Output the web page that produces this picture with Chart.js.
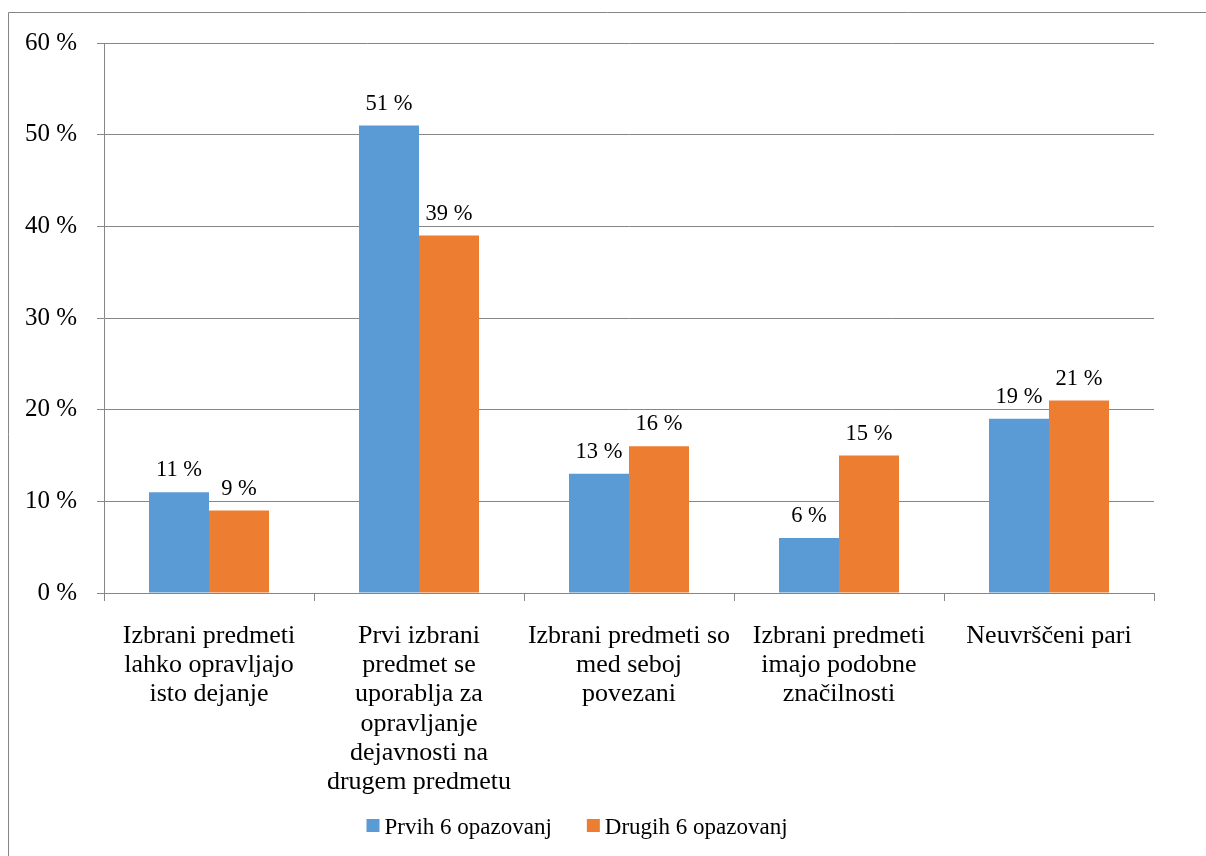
<!DOCTYPE html>
<html>
<head>
<meta charset="utf-8">
<script src="https://cdn.jsdelivr.net/npm/chart.js@4/dist/chart.umd.min.js"></script>
<style>
  html, body { margin: 0; padding: 0; background: #fff; }
  #wrap { position: absolute; left: 0; top: 0; width: 1206px; height: 856px; }
</style>
</head>
<body>
<div id="wrap"><canvas id="c" width="1206" height="856"></canvas></div>
<script>
// Kategorije (vsaka oznaka razdeljena v vrstice)
const categories = [
  ["Izbrani predmeti", "lahko opravljajo", "isto dejanje"],
  ["Prvi izbrani", "predmet se", "uporablja za", "opravljanje", "dejavnosti na", "drugem predmetu"],
  ["Izbrani predmeti so", "med seboj", "povezani"],
  ["Izbrani predmeti", "imajo podobne", "značilnosti"],
  ["Neuvrščeni pari"]
];
const seriesNames = ["Prvih 6 opazovanj", "Drugih 6 opazovanj"];
const prvih6 = [11, 51, 13, 6, 19];
const drugih6 = [9, 39, 16, 15, 21];
const yTicks = [0, 10, 20, 30, 40, 50, 60];

const FONT = '"Liberation Serif", "Times New Roman", serif';
const BLUE = '#5B9BD5';
const ORANGE = '#ED7D31';
const GRID = '#868686';

// Okvir celotnega grafa
const frame = {
  id: 'frame',
  beforeDraw(chart) {
    const ctx = chart.ctx;
    ctx.save();
    ctx.strokeStyle = GRID;
    ctx.lineWidth = 1;
    ctx.beginPath();
    ctx.moveTo(8.5, 860);
    ctx.lineTo(8.5, 12.5);
    ctx.lineTo(1210, 12.5);
    ctx.stroke();
    ctx.restore();
  }
};

// Vrednosti nad stolpci
const valueLabels = {
  id: 'valueLabels',
  afterDatasetsDraw(chart) {
    const ctx = chart.ctx;
    ctx.save();
    ctx.font = '22.5px ' + FONT;
    ctx.fillStyle = '#000';
    ctx.textAlign = 'center';
    ctx.textBaseline = 'alphabetic';
    chart.data.datasets.forEach((ds, di) => {
      chart.getDatasetMeta(di).data.forEach((bar, i) => {
        ctx.fillText(ds.data[i] + ' %', bar.x, bar.y - 16);
      });
    });
    ctx.restore();
  }
};

// Legenda pod grafom
const bottomLegend = {
  id: 'bottomLegend',
  afterDraw(chart) {
    const ctx = chart.ctx;
    ctx.save();
    ctx.font = '23px ' + FONT;
    ctx.textBaseline = 'alphabetic';
    ctx.textAlign = 'left';
    const box = 13, gapText = 5, gapItem = 35;
    const items = chart.data.datasets.map(ds => ({
      text: ds.label, color: ds.backgroundColor, w: ctx.measureText(ds.label).width
    }));
    let total = 0;
    items.forEach((it, i) => { total += box + gapText + it.w + (i ? gapItem : 0); });
    let x = 577 - total / 2;
    items.forEach((it, i) => {
      if (i) x += gapItem;
      ctx.fillStyle = it.color;
      ctx.fillRect(x, 819, box, box);
      x += box + gapText;
      ctx.fillStyle = '#000';
      ctx.fillText(it.text, x, 834);
      x += it.w;
    });
    ctx.restore();
  }
};

new Chart(document.getElementById('c'), {
  type: 'bar',
  data: {
    labels: categories,
    datasets: [
      { label: seriesNames[0], data: prvih6, backgroundColor: BLUE },
      { label: seriesNames[1], data: drugih6, backgroundColor: ORANGE }
    ]
  },
  options: {
    responsive: false,
    animation: false,
    devicePixelRatio: 1,
    layout: { padding: { top: 43, right: 52, left: 0, bottom: 0 } },
    datasets: { bar: { categoryPercentage: 120 / 210, barPercentage: 1 } },
    plugins: {
      legend: { display: false },
      tooltip: { enabled: false }
    },
    scales: {
      x: {
        afterFit(s) { s.height = 263; },
        grid: { display: true, drawOnChartArea: false, offset: true, tickLength: 8, color: GRID, lineWidth: 1 },
        border: { display: true, color: GRID, width: 1 },
        ticks: {
          autoSkip: false, maxRotation: 0, minRotation: 0, padding: 20,
          color: '#000', font: { family: FONT, size: 26, lineHeight: 1.13 }
        }
      },
      y: {
        min: 0, max: 60,
        afterFit(s) { s.width = 104; },
        afterBuildTicks(s) { s.ticks = yTicks.map(v => ({ value: v })); },
        grid: { color: GRID, lineWidth: 1, tickLength: 7 },
        border: { display: true, color: GRID, width: 1 },
        ticks: {
          padding: 20, color: '#000',
          font: { family: FONT, size: 25 },
          callback: v => v + ' %'
        }
      }
    }
  },
  plugins: [frame, valueLabels, bottomLegend]
});
</script>
</body>
</html>
